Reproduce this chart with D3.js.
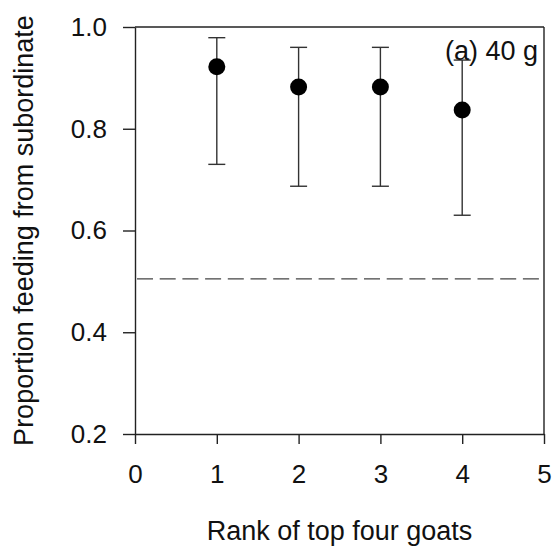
<!DOCTYPE html>
<html>
<head>
<meta charset="utf-8">
<script src="https://cdn.jsdelivr.net/npm/d3@7"></script>
<style>
  html, body { margin: 0; padding: 0; background: #fff; }
  svg { display: block; }
  text { font-family: Arial, "Liberation Sans", Helvetica, sans-serif; fill: #111; }
</style>
</head>
<body>
<svg id="chart" width="554" height="550"></svg>
<script>
// Rank of each of the top four goats
const ranks = [1, 2, 3, 4];
// Proportion of feeds taken from a subordinate, with 95% interval bounds
const means = [0.922, 0.882, 0.882, 0.837];
const upper = [0.979, 0.960, 0.960, 0.935];
const lower = [0.730, 0.687, 0.687, 0.630];
// Chance level reference line
const chanceLevel = [0.505];
// Axis ticks
const xTicks = [0, 1, 2, 3, 4, 5];
const yTicks = [0.2, 0.4, 0.6, 0.8, 1.0];
const panelLabel = "(a) 40 g";

const svg = d3.select("#chart");
const m = { left: 135, right: 544, top: 27, bottom: 434 };
const ink = "#222";

const x = d3.scaleLinear().domain([0, 5]).range([m.left, m.right]);
const y = d3.scaleLinear().domain([0.2, 1.0]).range([m.bottom, m.top]);

const rows = ranks.map((r, i) => ({ r, mean: means[i], hi: upper[i], lo: lower[i] }));

// Axes
const yAxis = svg.append("g")
  .attr("transform", `translate(${m.left},0)`)
  .call(d3.axisLeft(y).tickValues(yTicks).tickSize(12).tickSizeOuter(0)
    .tickFormat(d3.format(".1f")).tickPadding(16));
const xAxis = svg.append("g")
  .attr("transform", `translate(0,${m.bottom})`)
  .call(d3.axisBottom(x).tickValues(xTicks).tickSize(10).tickSizeOuter(0)
    .tickFormat(d3.format("d")).tickPadding(21));

[yAxis, xAxis].forEach(g => {
  g.select(".domain").attr("stroke", ink).attr("stroke-width", 1.4);
  g.selectAll(".tick line").attr("stroke", ink).attr("stroke-width", 1.4);
  g.selectAll(".tick text").attr("font-size", 26).attr("fill", "#111")
    .style("font-family", "Arial, 'Liberation Sans', sans-serif");
});

// Top and right frame lines
svg.append("line").attr("x1", m.left).attr("x2", m.right).attr("y1", m.top).attr("y2", m.top)
  .attr("stroke", ink).attr("stroke-width", 1.4);
svg.append("line").attr("x1", m.right).attr("x2", m.right).attr("y1", m.top).attr("y2", m.bottom)
  .attr("stroke", ink).attr("stroke-width", 1.4);

// Chance reference line
svg.selectAll(".chance").data(chanceLevel).join("line")
  .attr("class", "chance")
  .attr("x1", m.left + 2).attr("x2", m.right)
  .attr("y1", d => y(d)).attr("y2", d => y(d))
  .attr("stroke", "#444").attr("stroke-width", 1.3)
  .attr("stroke-dasharray", "16,6.7");

// Error bars
const cap = 8.5;
const bars = svg.append("g").attr("stroke", "#333").attr("stroke-width", 1.4);
bars.selectAll(".stem").data(rows).join("line")
  .attr("x1", d => x(d.r)).attr("x2", d => x(d.r))
  .attr("y1", d => y(d.hi)).attr("y2", d => y(d.lo));
bars.selectAll(".capHi").data(rows).join("line")
  .attr("x1", d => x(d.r) - cap).attr("x2", d => x(d.r) + cap)
  .attr("y1", d => y(d.hi)).attr("y2", d => y(d.hi));
bars.selectAll(".capLo").data(rows).join("line")
  .attr("x1", d => x(d.r) - cap).attr("x2", d => x(d.r) + cap)
  .attr("y1", d => y(d.lo)).attr("y2", d => y(d.lo));

// Mean points
svg.selectAll(".pt").data(rows).join("circle")
  .attr("cx", d => x(d.r)).attr("cy", d => y(d.mean)).attr("r", 8.5)
  .attr("fill", "#000");

// Panel label
svg.append("text").attr("x", 538).attr("y", 60).attr("text-anchor", "end")
  .attr("font-size", 27).text(panelLabel);

// Axis titles
svg.append("text").attr("x", (m.left + m.right) / 2).attr("y", 540)
  .attr("text-anchor", "middle").attr("font-size", 27).text("Rank of top four goats");
svg.append("text")
  .attr("transform", `translate(33,${(m.top + m.bottom) / 2}) rotate(-90)`)
  .attr("text-anchor", "middle").attr("font-size", 27)
  .text("Proportion feeding from subordinate");
</script>
</body>
</html>
